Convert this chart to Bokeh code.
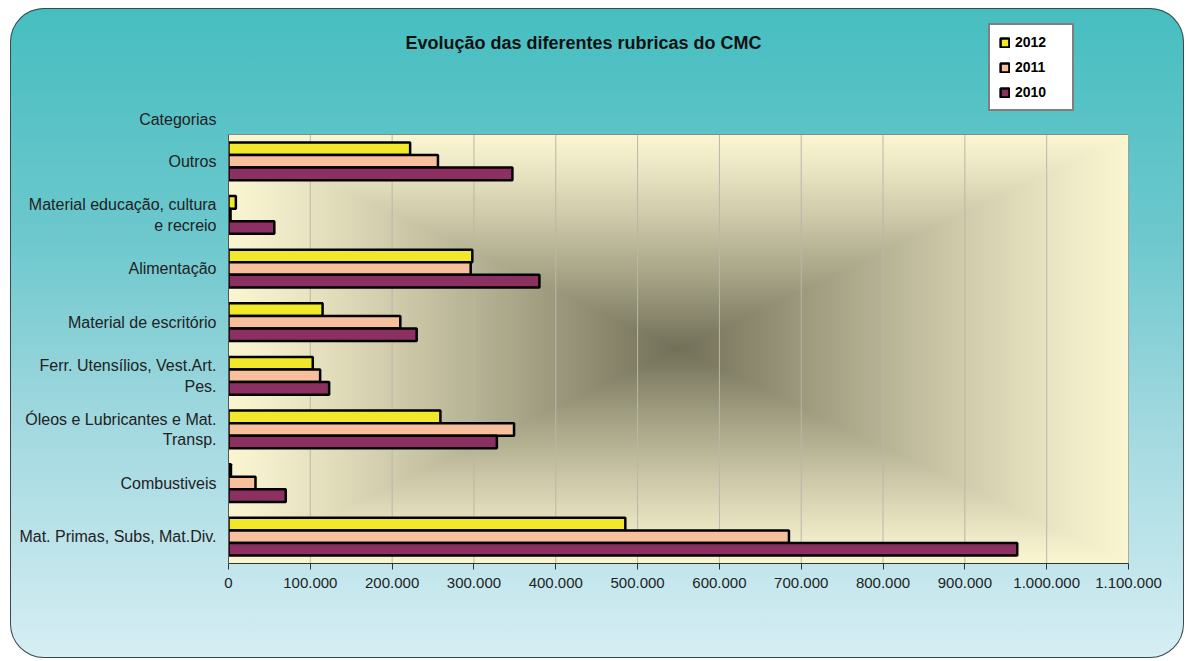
import numpy as np
from bokeh.plotting import figure
from bokeh.models import (Range1d, Legend, LegendItem, Label, FixedTicker,
                          CustomJSTickFormatter, ColumnDataSource)
from bokeh.transform import dodge
from bokeh.embed import file_html
from bokeh.resources import INLINE

# ---------------- data ----------------
categories = [
    "Mat. Primas, Subs, Mat.Div.",
    "Combustiveis",
    "Óleos e Lubricantes e Mat.\nTransp.",
    "Ferr. Utensílios, Vest.Art.\nPes.",
    "Material de escritório",
    "Alimentação",
    "Material educação, cultura\ne recreio",
    "Outros",
]
values_2012 = [485000, 3000, 259000, 103000, 115000, 298000, 9000, 222000]
values_2011 = [685000, 33000, 349000, 112000, 210000, 296000, 2500, 256000]
values_2010 = [964000, 70000, 328000, 123000, 230000, 380000, 56000, 347000]
years = ["2012", "2011", "2010"]
x_ticks = [0, 100000, 200000, 300000, 400000, 500000, 600000, 700000,
           800000, 900000, 1000000, 1100000]
title_text = "Evolução das diferentes rubricas do CMC"
axis_caption = "Categorias"

FONT = "Liberation Sans"
n = len(categories)
idx = list(range(n))

src = ColumnDataSource(dict(idx=idx, cat=categories, v2012=values_2012,
                            v2011=values_2011, v2010=values_2010))

# frame reaches to the top of the chart so legend/title sit inside it
Y_TOP = n - 0.5 + 126 / 53.625
p = figure(width=1174, height=650, x_range=Range1d(0, 1100000),
           y_range=Range1d(-0.5, Y_TOP), output_backend="svg",
           toolbar_location=None, min_border_left=218, min_border_right=56,
           min_border_top=0, min_border_bottom=95)

p.border_fill_color = None
p.background_fill_color = None
p.outline_line_color = None
p.styles = {
    "margin-left": "10px",
    "margin-top": "8px",
    "background-image": "linear-gradient(to bottom, #46bec0 0%, #6cc8cd 35%, #a3d9e0 65%, #d6eef4 100%)",
    "border-radius": "34px",
    "box-shadow": "inset 0 0 0 1px #3a4a4a",
}

# plot-area rectangular "from centre" gradient
H, W = 143, 300
yy, xx = np.mgrid[0:H, 0:W]
dx = np.abs((xx + 0.5) / W - 0.5) * 2
dy = np.abs((yy + 0.5) / H - 0.5) * 2
t = np.maximum(dx, dy)
f = (1 - t) ** 1.15
pale = np.array([251, 246, 210], dtype=float)
dark = np.array([114, 112, 88], dtype=float)
rgb = pale[None, None, :] * (1 - f[..., None]) + dark[None, None, :] * f[..., None]
img = np.empty((H, W), dtype=np.uint32)
view = img.view(dtype=np.uint8).reshape((H, W, 4))
view[:, :, 0] = rgb[..., 0].astype(np.uint8)
view[:, :, 1] = rgb[..., 1].astype(np.uint8)
view[:, :, 2] = rgb[..., 2].astype(np.uint8)
view[:, :, 3] = 255
p.image_rgba(image=[img], x=0, y=-0.5, dw=1100000, dh=n)

# vertical grid lines limited to the plot area
p.segment(x0=x_ticks, y0=[-0.5] * len(x_ticks), x1=x_ticks, y1=[n - 0.5] * len(x_ticks),
          line_color="#b8b8a8", line_width=1)
# plot-area border (top / right)
p.quad(left=[0], right=[1100000], bottom=[-0.5], top=[n - 0.5], fill_color=None,
       line_color="#8a8a80", line_width=1)

# bars
bh = 0.235
colors = {"2012": "#f2e82a", "2011": "#f8bf9c", "2010": "#8c3062"}
offs = {"2012": bh, "2011": 0.0, "2010": -bh}
renderers = {}
for yr in years:
    renderers[yr] = p.hbar(y=dodge("idx", offs[yr]), right="v" + yr, left=0,
                           height=bh, source=src, fill_color=colors[yr],
                           line_color="black", line_width=2.5)

p.xgrid.visible = False
p.ygrid.visible = False

# x axis
p.xaxis.ticker = FixedTicker(ticks=x_ticks)
p.xaxis.formatter = CustomJSTickFormatter(code="""
    return tick.toFixed(0).replace(/\\B(?=(\\d{3})+(?!\\d))/g, '.');
""")
p.xaxis.major_label_text_font = FONT
p.xaxis.major_label_text_font_size = "15px"
p.xaxis.major_label_text_color = "#222222"
p.xaxis.major_tick_out = 6
p.xaxis.major_tick_in = 0
p.xaxis.minor_tick_line_color = None
p.xaxis.axis_line_color = "#333333"
p.xaxis.major_tick_line_color = "#333333"
p.xaxis.major_label_standoff = 8

# y axis: categories + caption above them
caption_pos = n - 0.5 + 15 / 53.625
overrides = {i: c for i, c in zip(idx, categories)}
overrides[caption_pos] = axis_caption
p.yaxis.ticker = FixedTicker(ticks=idx + [caption_pos])
p.yaxis.major_label_overrides = overrides
p.yaxis.bounds = (-0.5, n - 0.5)
p.yaxis.major_label_text_font = FONT
p.yaxis.major_label_text_font_size = "16px"
p.yaxis.major_label_text_color = "#222222"
p.yaxis.major_tick_line_color = None
p.yaxis.minor_tick_line_color = None
p.yaxis.axis_line_color = "#555555"
p.yaxis.major_label_standoff = 6

# chart title
title_x = (583 - 228) / 900 * 1100000
title_y = n - 0.5 + (134 - 42) / 53.625
p.add_layout(Label(x=title_x, y=title_y, text=title_text, text_font=FONT,
                   text_font_style="bold", text_font_size="18px", text_align="center",
                   text_baseline="middle", text_color="#111111"))

legend = Legend(items=[LegendItem(label=yr, renderers=[renderers[yr]]) for yr in years],
                location=(760, 452), orientation="vertical")
legend.label_text_font = FONT
legend.label_text_font_style = "bold"
legend.label_text_font_size = "14px"
legend.label_text_color = "#000000"
legend.glyph_width = 11
legend.glyph_height = 11
legend.label_height = 14
legend.label_width = 48
legend.label_standoff = 5
legend.spacing = 9
legend.padding = 9
legend.margin = 0
legend.border_line_color = "black"
legend.border_line_width = 2
legend.background_fill_color = "white"
legend.background_fill_alpha = 1
p.add_layout(legend)

open("out.html", "w").write(file_html(p, INLINE))
